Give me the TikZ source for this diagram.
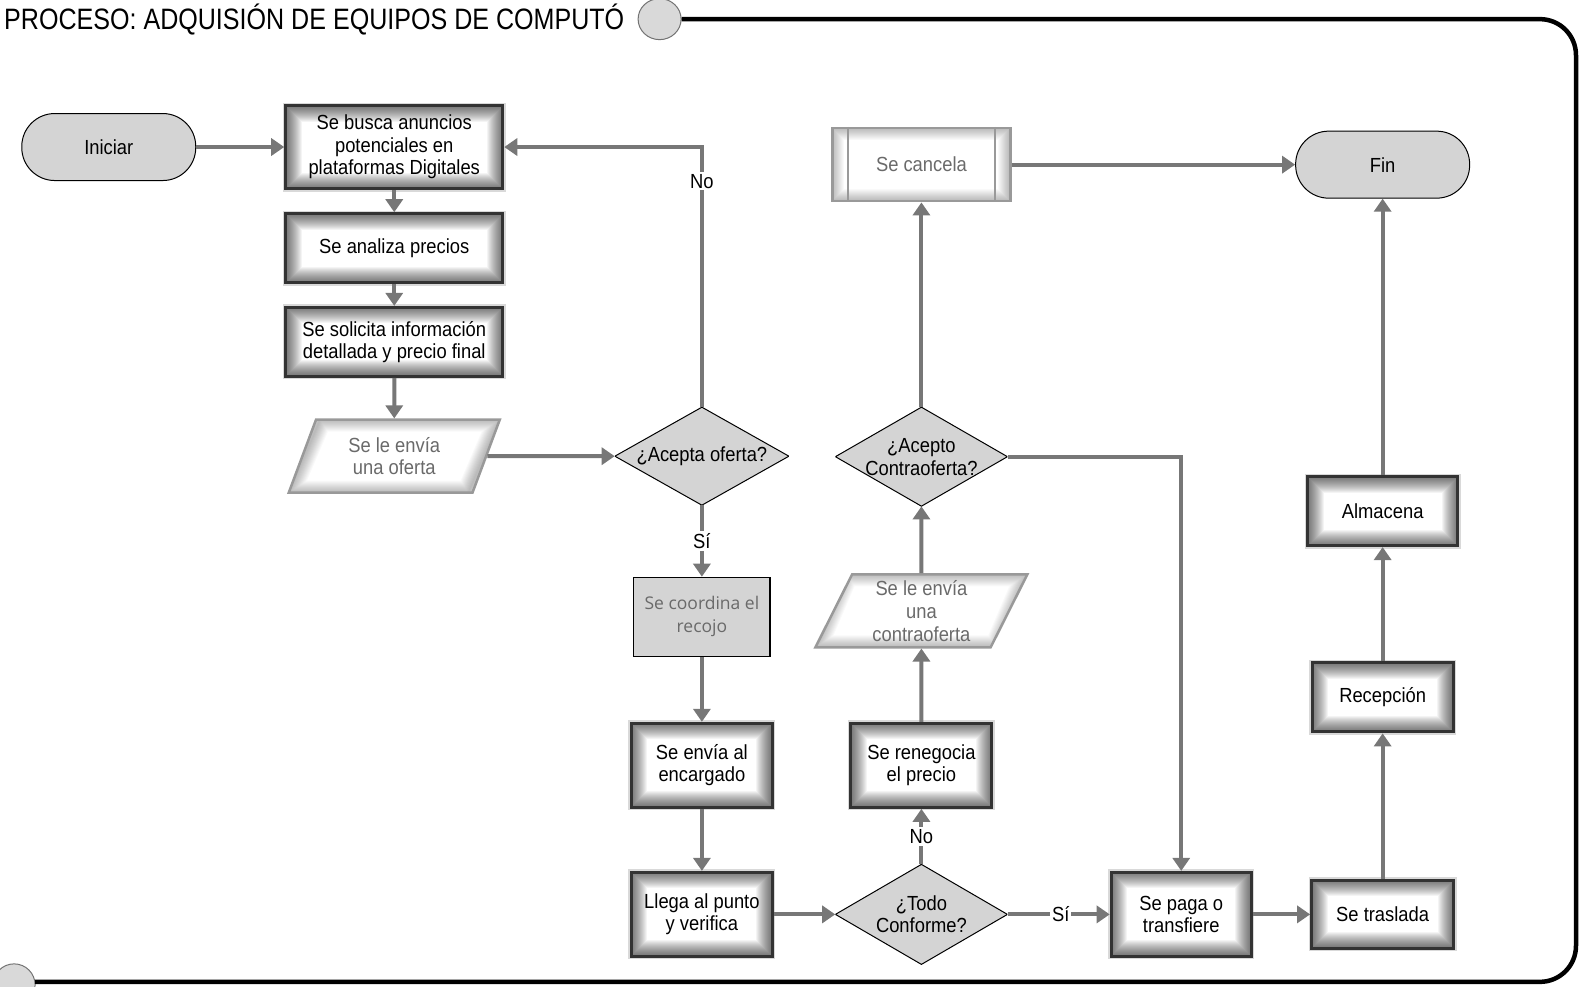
\documentclass[tikz,border=0pt]{standalone}
\usepackage{fontspec}
\setmainfont{Liberation Sans}[FakeStretch=0.9]
\newfontfamily\titlefont{Liberation Sans}[FakeStretch=0.85]
\newfontfamily\lightfont{Open Sans}
\usetikzlibrary{arrows.meta,shapes.geometric,calc}
\definecolor{arrowgray}{HTML}{777777}
\definecolor{fillgray}{HTML}{D4D4D4}
\definecolor{txtgray}{HTML}{6A6A6A}
\tikzset{
  every node/.style={font=\fontsize{20.4}{22.5}\selectfont, align=center, inner sep=0pt},
  glowbox/.style={rectangle, fill=white, draw=black!80, line width=3pt,
    preaction={draw=black, line width=6pt, opacity=0.15},
    path picture={
      \foreach \w in {2,4,...,32}{
        \draw[line width=\w pt, black, opacity=0.042] (path picture bounding box.south west) rectangle (path picture bounding box.north east);}}},
  lightbox/.style={rectangle, fill=white, draw=black!40, line width=2.5pt, text=txtgray,
    path picture={
      \foreach \w in {2,4,...,24}{
        \draw[line width=\w pt, black, opacity=0.022] (path picture bounding box.south west) rectangle (path picture bounding box.north east);}}},
  paral/.style={trapezium, trapezium left angle=67, trapezium right angle=113, trapezium stretches=true,
    minimum width=211pt, minimum height=73pt, fill=white, draw=black!40, line width=2.5pt, text=txtgray,
    path picture={
      \foreach \w in {2,4,...,24}{
        \draw[line width=\w pt, black, opacity=0.022, line join=miter]
          (path picture bounding box.south west) -- ($(path picture bounding box.north west)+(31,0)$)
          -- (path picture bounding box.north east) -- ($(path picture bounding box.south east)+(-31,0)$) -- cycle;}}},
  term/.style={rectangle, rounded corners=33pt, minimum width=174pt, minimum height=67pt,
    fill=fillgray, draw=black, line width=1pt},
  decis/.style={rectangle, fill=white,
    path picture={
      \filldraw[fill=fillgray, draw=black, line width=1pt]
        (path picture bounding box.north) -- (path picture bounding box.east) --
        (path picture bounding box.south) -- (path picture bounding box.west) -- cycle;}},
  arr/.style={draw=arrowgray, line width=4pt, -{Triangle[width=17pt,length=13pt]}},
  lbl/.style={fill=white, inner sep=2pt},
}
\begin{document}
\begin{tikzpicture}[x=1.007pt,y=-1.007pt]
\useasboundingbox (0,0) rectangle (1568,980);

% title and frame
\node[font=\titlefont\fontsize{29.5}{31}\selectfont, anchor=west] (title) at (4,19) {PROCESO: ADQUISIÓN DE EQUIPOS DE COMPUTÓ};
\node[ellipse, draw=black!55, fill=black!15, line width=1pt, minimum width=43pt, minimum height=41pt] (tc) at (655,19) {};
\node[circle, draw=black!55, fill=black!15, line width=1pt, minimum size=42pt] (bc) at (14,978) {};
\draw[line width=4.5pt, rounded corners=36pt] (tc.east) -- (1565,19) -- (1565,975) -- (35,975);

% nodes
\node[term] (ini) at (108,146) {Iniciar};
\node[glowbox, minimum width=217pt, minimum height=83pt] (b1) at (391.5,146) {Se busca anuncios\\potenciales en\\plataformas Digitales};
\node[glowbox, minimum width=217pt, minimum height=69pt] (b2) at (391.5,246.5) {Se analiza precios};
\node[glowbox, minimum width=217pt, minimum height=69pt] (b3) at (391.5,339.5) {Se solicita información\\detallada y precio final};
\node[paral] (p1) at (391.5,453) {Se le envía\\una oferta};
\node[decis, minimum width=174pt, minimum height=98pt] (d1) at (697,453) {¿Acepta oferta?};
\node[rectangle, fill=fillgray, draw=black, line width=1.2pt, minimum width=136pt, minimum height=79pt,
      text=txtgray, font=\lightfont\fontsize{17.5}{23}\selectfont] (coord) at (697,612.5) {Se coordina el\\recojo};
\node[glowbox, minimum width=141pt, minimum height=84pt] (envia) at (697,760) {Se envía al\\encargado};
\node[glowbox, minimum width=141pt, minimum height=84pt] (llega) at (697,908) {Llega al punto\\y verifica};
\node[decis, minimum width=172pt, minimum height=100pt] (d2) at (915,908) {¿Todo\\Conforme?};
\node[glowbox, minimum width=141pt, minimum height=84pt] (reneg) at (915,760) {Se renegocia\\el precio};
\node[paral, minimum width=212pt, font=\fontsize{20.4}{23}\selectfont] (p2) at (915,606.5) {Se le envía\\una\\contraoferta};
\node[decis, minimum width=172pt, minimum height=99pt, font=\fontsize{20.4}{23}\selectfont] (d3) at (915,453.5) {¿Acepto\\Contraoferta?};
\node[lightbox, minimum width=178pt, minimum height=73pt] (cancel) at (915,163.5) {Se cancela};
\draw[draw=black!40, line width=2pt] ($(cancel.north west)+(17,0)$) -- ($(cancel.south west)+(17,0)$);
\draw[draw=black!40, line width=2pt] ($(cancel.north east)+(-17,0)$) -- ($(cancel.south east)+(-17,0)$);
\node[term] (fin) at (1373,163.5) {Fin};
\node[glowbox, minimum width=140pt, minimum height=84pt] (paga) at (1173,908) {Se paga o\\transfiere};
\node[glowbox, minimum width=142pt, minimum height=68pt] (tras) at (1373,908) {Se traslada};
\node[glowbox, minimum width=141pt, minimum height=69pt] (recep) at (1373,692.5) {Recepción};
\node[glowbox, minimum width=150pt, minimum height=69pt] (alm) at (1373,507.5) {Almacena};

% connectors
\draw[arr] (ini.east) -- (b1.west);
\draw[arr] (b1.south) -- (b2.north);
\draw[arr] (b2.south) -- (b3.north);
\draw[arr] (b3.south) -- (p1.north);
\draw[arr] (p1.east) -- (d1.west);
\draw[arr] (d1.north) |- node[lbl, pos=0.434] (lno1) {No} (b1.east);
\draw[arr] (d1.south) -- node[lbl, pos=0.5] (lsi1) {Sí} (coord.north);
\draw[arr] (coord.south) -- (envia.north);
\draw[arr] (envia.south) -- (llega.north);
\draw[arr] (llega.east) -- (d2.west);
\draw[arr] (d2.north) -- node[lbl, pos=0.5] (lno2) {No} (reneg.south);
\draw[arr] (reneg.north) -- (p2.south);
\draw[arr] (p2.north) -- (d3.south);
\draw[arr] (d3.north) -- (cancel.south);
\draw[arr] (cancel.east) -- (fin.west);
\draw[arr] (d3.east) -| (paga.north);
\draw[arr] (d2.east) -- node[lbl, pos=0.52] (lsi2) {Sí} (paga.west);
\draw[arr] (paga.east) -- (tras.west);
\draw[arr] (tras.north) -- (recep.south);
\draw[arr] (recep.north) -- (alm.south);
\draw[arr] (alm.north) -- (fin.south);
\end{tikzpicture}
\end{document}
